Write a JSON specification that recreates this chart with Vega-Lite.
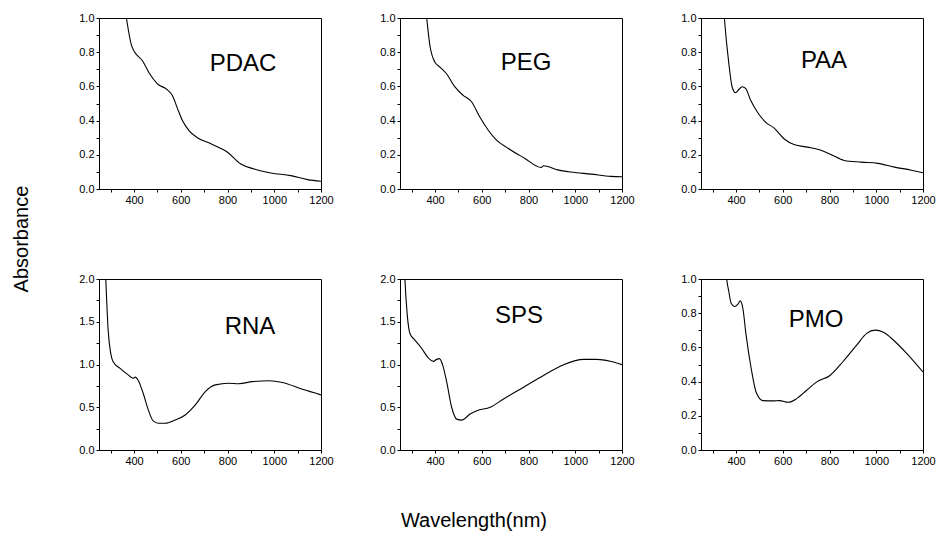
{
  "$schema": "https://vega.github.io/schema/vega-lite/v6.json",
  "padding": {"left": 12, "top": 11, "right": 5, "bottom": 5},
  "config": {
    "font": "Liberation Sans",
    "view": {"stroke": "black", "strokeWidth": 1},
    "axis": {"grid": false, "domainColor": "black", "tickColor": "black", "labelColor": "black", "labelFontSize": 11, "tickSize": 3, "labelPadding": 2, "labelFont": "Liberation Sans", "labelFlush": false},
    "line": {"color": "black", "strokeWidth": 1.1, "interpolate": "monotone"},
    "title": {"fontSize": 24, "fontWeight": "normal", "color": "black", "anchor": "middle", "frame": "group", "baseline": "alphabetic", "font": "Liberation Sans"},
    "concat": {"spacing": 45}
  },
  "datasets": {
    "PDAC": [
      {"wl": 355, "abs": 1.1}, {"wl": 367, "abs": 1.0}, {"wl": 389, "abs": 0.84}, {"wl": 403, "abs": 0.80}, {"wl": 436, "abs": 0.75},
      {"wl": 464, "abs": 0.68}, {"wl": 500, "abs": 0.615}, {"wl": 543, "abs": 0.58}, {"wl": 564, "abs": 0.547}, {"wl": 586, "abs": 0.47},
      {"wl": 607, "abs": 0.40}, {"wl": 636, "abs": 0.34}, {"wl": 671, "abs": 0.30}, {"wl": 729, "abs": 0.264}, {"wl": 800, "abs": 0.215},
      {"wl": 857, "abs": 0.146}, {"wl": 914, "abs": 0.117}, {"wl": 986, "abs": 0.094}, {"wl": 1071, "abs": 0.078}, {"wl": 1143, "abs": 0.055},
      {"wl": 1200, "abs": 0.045}
    ],
    "PEG": [
      {"wl": 355, "abs": 1.1}, {"wl": 364, "abs": 1.0}, {"wl": 378, "abs": 0.839}, {"wl": 399, "abs": 0.742}, {"wl": 421, "abs": 0.713},
      {"wl": 449, "abs": 0.674}, {"wl": 485, "abs": 0.597}, {"wl": 520, "abs": 0.548}, {"wl": 556, "abs": 0.51}, {"wl": 591, "abs": 0.422},
      {"wl": 627, "abs": 0.345}, {"wl": 662, "abs": 0.287}, {"wl": 712, "abs": 0.238}, {"wl": 783, "abs": 0.18}, {"wl": 854, "abs": 0.126},
      {"wl": 864, "abs": 0.136}, {"wl": 925, "abs": 0.112}, {"wl": 982, "abs": 0.099}, {"wl": 1068, "abs": 0.087}, {"wl": 1153, "abs": 0.074},
      {"wl": 1200, "abs": 0.072}
    ],
    "PAA": [
      {"wl": 342, "abs": 1.15}, {"wl": 350, "abs": 1.0}, {"wl": 369, "abs": 0.735}, {"wl": 383, "abs": 0.598}, {"wl": 398, "abs": 0.563},
      {"wl": 412, "abs": 0.582}, {"wl": 426, "abs": 0.598}, {"wl": 441, "abs": 0.588}, {"wl": 462, "abs": 0.52}, {"wl": 491, "abs": 0.45},
      {"wl": 527, "abs": 0.39}, {"wl": 562, "abs": 0.357}, {"wl": 605, "abs": 0.294}, {"wl": 648, "abs": 0.26}, {"wl": 706, "abs": 0.245},
      {"wl": 756, "abs": 0.23}, {"wl": 806, "abs": 0.202}, {"wl": 863, "abs": 0.167}, {"wl": 935, "abs": 0.157}, {"wl": 1007, "abs": 0.150},
      {"wl": 1078, "abs": 0.128}, {"wl": 1150, "abs": 0.11}, {"wl": 1200, "abs": 0.095}
    ],
    "RNA": [
      {"wl": 276, "abs": 2.2}, {"wl": 279, "abs": 2.0}, {"wl": 289, "abs": 1.406}, {"wl": 300, "abs": 1.133}, {"wl": 310, "abs": 1.035},
      {"wl": 339, "abs": 0.957}, {"wl": 375, "abs": 0.879}, {"wl": 396, "abs": 0.84}, {"wl": 406, "abs": 0.852}, {"wl": 418, "abs": 0.8125},
      {"wl": 439, "abs": 0.664}, {"wl": 461, "abs": 0.469}, {"wl": 482, "abs": 0.34}, {"wl": 504, "abs": 0.3125}, {"wl": 533, "abs": 0.3125},
      {"wl": 576, "abs": 0.352}, {"wl": 619, "abs": 0.41}, {"wl": 662, "abs": 0.527}, {"wl": 705, "abs": 0.684}, {"wl": 748, "abs": 0.762},
      {"wl": 805, "abs": 0.78}, {"wl": 848, "abs": 0.775}, {"wl": 906, "abs": 0.80}, {"wl": 978, "abs": 0.81}, {"wl": 1035, "abs": 0.79},
      {"wl": 1121, "abs": 0.71}, {"wl": 1200, "abs": 0.645}
    ],
    "SPS": [
      {"wl": 268, "abs": 2.2}, {"wl": 271, "abs": 2.0}, {"wl": 281, "abs": 1.58}, {"wl": 293, "abs": 1.36}, {"wl": 314, "abs": 1.285},
      {"wl": 343, "abs": 1.187}, {"wl": 371, "abs": 1.077}, {"wl": 393, "abs": 1.037}, {"wl": 407, "abs": 1.06}, {"wl": 419, "abs": 1.069},
      {"wl": 433, "abs": 0.99}, {"wl": 450, "abs": 0.794}, {"wl": 471, "abs": 0.5}, {"wl": 493, "abs": 0.361}, {"wl": 514, "abs": 0.35},
      {"wl": 550, "abs": 0.42}, {"wl": 579, "abs": 0.46}, {"wl": 636, "abs": 0.5}, {"wl": 693, "abs": 0.597}, {"wl": 779, "abs": 0.735},
      {"wl": 864, "abs": 0.872}, {"wl": 950, "abs": 0.998}, {"wl": 1036, "abs": 1.06}, {"wl": 1093, "abs": 1.06}, {"wl": 1150, "abs": 1.037},
      {"wl": 1200, "abs": 0.998}
    ],
    "PMO": [
      {"wl": 355, "abs": 1.08}, {"wl": 360, "abs": 1.0}, {"wl": 369, "abs": 0.927}, {"wl": 379, "abs": 0.858}, {"wl": 393, "abs": 0.839},
      {"wl": 408, "abs": 0.853}, {"wl": 418, "abs": 0.872}, {"wl": 429, "abs": 0.829}, {"wl": 443, "abs": 0.672}, {"wl": 465, "abs": 0.475},
      {"wl": 486, "abs": 0.338}, {"wl": 515, "abs": 0.289}, {"wl": 558, "abs": 0.287}, {"wl": 587, "abs": 0.289}, {"wl": 623, "abs": 0.279},
      {"wl": 658, "abs": 0.299}, {"wl": 701, "abs": 0.348}, {"wl": 744, "abs": 0.397}, {"wl": 802, "abs": 0.436}, {"wl": 859, "abs": 0.519},
      {"wl": 916, "abs": 0.613}, {"wl": 959, "abs": 0.682}, {"wl": 995, "abs": 0.701}, {"wl": 1031, "abs": 0.688}, {"wl": 1074, "abs": 0.642},
      {"wl": 1131, "abs": 0.564}, {"wl": 1200, "abs": 0.456}
    ]
  },
  "title": {"text": "Wavelength(nm)", "orient": "bottom", "fontSize": 20, "frame": "bounds", "anchor": "middle", "offset": 44, "baseline": "top"},
  "vconcat": [
    {
      "title": {"text": "Absorbance", "orient": "left", "fontSize": 20, "frame": "bounds", "anchor": "middle", "offset": 26, "baseline": "bottom"},
      "spacing": 66,
      "vconcat": [
        {
          "hconcat": [
            {
              "width": 222, "height": 171,
              "title": {"text": "PDAC", "offset": -64, "dx": 33},
              "data": {"name": "PDAC"},
              "mark": {"type": "line", "clip": true},
              "encoding": {
                "x": {"field": "wl", "type": "quantitative", "title": null, "scale": {"domain": [250, 1200], "nice": false}, "axis": {"values": [300, 400, 500, 600, 700, 800, 900, 1000, 1100, 1200], "format": "d", "labelExpr": "datum.value % 200 == 0 ? datum.label : ''"}},
                "y": {"field": "abs", "type": "quantitative", "title": null, "scale": {"domain": [0, 1], "nice": false}, "axis": {"values": [0, 0.1, 0.2, 0.3, 0.4, 0.5, 0.6, 0.7, 0.8, 0.9, 1.0], "format": ".1f", "labelExpr": "round(datum.value * 10) % 2 == 0 ? datum.label : ''"}}
              }
            },
            {
              "width": 222, "height": 171,
              "title": {"text": "PEG", "offset": -63, "dx": 15},
              "data": {"name": "PEG"},
              "mark": {"type": "line", "clip": true},
              "encoding": {
                "x": {"field": "wl", "type": "quantitative", "title": null, "scale": {"domain": [250, 1200], "nice": false}, "axis": {"values": [300, 400, 500, 600, 700, 800, 900, 1000, 1100, 1200], "format": "d", "labelExpr": "datum.value % 200 == 0 ? datum.label : ''"}},
                "y": {"field": "abs", "type": "quantitative", "title": null, "scale": {"domain": [0, 1], "nice": false}, "axis": {"values": [0, 0.1, 0.2, 0.3, 0.4, 0.5, 0.6, 0.7, 0.8, 0.9, 1.0], "format": ".1f", "labelExpr": "round(datum.value * 10) % 2 == 0 ? datum.label : ''"}}
              }
            },
            {
              "width": 222, "height": 171,
              "title": {"text": "PAA", "offset": -61, "dx": 12},
              "data": {"name": "PAA"},
              "mark": {"type": "line", "clip": true},
              "encoding": {
                "x": {"field": "wl", "type": "quantitative", "title": null, "scale": {"domain": [250, 1200], "nice": false}, "axis": {"values": [300, 400, 500, 600, 700, 800, 900, 1000, 1100, 1200], "format": "d", "labelExpr": "datum.value % 200 == 0 ? datum.label : ''"}},
                "y": {"field": "abs", "type": "quantitative", "title": null, "scale": {"domain": [0, 1], "nice": false}, "axis": {"values": [0, 0.1, 0.2, 0.3, 0.4, 0.5, 0.6, 0.7, 0.8, 0.9, 1.0], "format": ".1f", "labelExpr": "round(datum.value * 10) % 2 == 0 ? datum.label : ''"}}
              }
            }
          ]
        },
        {
          "hconcat": [
            {
              "width": 222, "height": 171,
              "title": {"text": "RNA", "offset": -66, "dx": 40},
              "data": {"name": "RNA"},
              "mark": {"type": "line", "clip": true},
              "encoding": {
                "x": {"field": "wl", "type": "quantitative", "title": null, "scale": {"domain": [250, 1200], "nice": false}, "axis": {"values": [300, 400, 500, 600, 700, 800, 900, 1000, 1100, 1200], "format": "d", "labelExpr": "datum.value % 200 == 0 ? datum.label : ''"}},
                "y": {"field": "abs", "type": "quantitative", "title": null, "scale": {"domain": [0, 2], "nice": false}, "axis": {"values": [0, 0.25, 0.5, 0.75, 1.0, 1.25, 1.5, 1.75, 2.0], "format": ".1f", "labelExpr": "round(datum.value * 4) % 2 == 0 ? datum.label : ''"}}
              }
            },
            {
              "width": 222, "height": 171,
              "title": {"text": "SPS", "offset": -55, "dx": 8},
              "data": {"name": "SPS"},
              "mark": {"type": "line", "clip": true},
              "encoding": {
                "x": {"field": "wl", "type": "quantitative", "title": null, "scale": {"domain": [250, 1200], "nice": false}, "axis": {"values": [300, 400, 500, 600, 700, 800, 900, 1000, 1100, 1200], "format": "d", "labelExpr": "datum.value % 200 == 0 ? datum.label : ''"}},
                "y": {"field": "abs", "type": "quantitative", "title": null, "scale": {"domain": [0, 2], "nice": false}, "axis": {"values": [0, 0.25, 0.5, 0.75, 1.0, 1.25, 1.5, 1.75, 2.0], "format": ".1f", "labelExpr": "round(datum.value * 4) % 2 == 0 ? datum.label : ''"}}
              }
            },
            {
              "width": 222, "height": 171,
              "title": {"text": "PMO", "offset": -59, "dx": 4},
              "data": {"name": "PMO"},
              "mark": {"type": "line", "clip": true},
              "encoding": {
                "x": {"field": "wl", "type": "quantitative", "title": null, "scale": {"domain": [250, 1200], "nice": false}, "axis": {"values": [300, 400, 500, 600, 700, 800, 900, 1000, 1100, 1200], "format": "d", "labelExpr": "datum.value % 200 == 0 ? datum.label : ''"}},
                "y": {"field": "abs", "type": "quantitative", "title": null, "scale": {"domain": [0, 1], "nice": false}, "axis": {"values": [0, 0.1, 0.2, 0.3, 0.4, 0.5, 0.6, 0.7, 0.8, 0.9, 1.0], "format": ".1f", "labelExpr": "round(datum.value * 10) % 2 == 0 ? datum.label : ''"}}
              }
            }
          ]
        }
      ]
    }
  ]
}
